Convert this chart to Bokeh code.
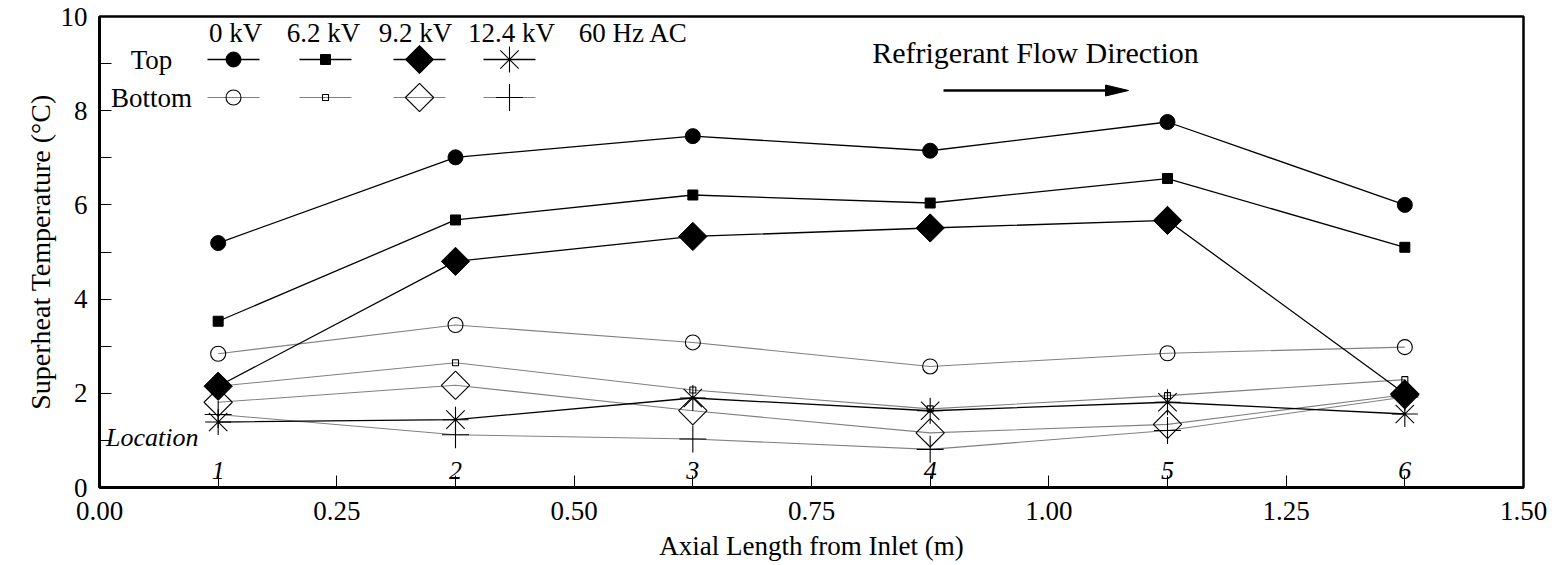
import math
from bokeh.plotting import figure
from bokeh.models import Range1d, FixedTicker, NumeralTickFormatter
from bokeh.embed import file_html
from bokeh.resources import INLINE
from bokeh.core.properties import value

# ---------------- data ----------------
axial_m = [0.125, 0.375, 0.625, 0.875, 1.125, 1.375]
location_labels = ["1", "2", "3", "4", "5", "6"]

top_0kv = [5.19, 7.01, 7.46, 7.15, 7.76, 6.00]
top_6_2kv = [3.53, 5.68, 6.21, 6.04, 6.56, 5.10]
top_9_2kv = [2.15, 4.80, 5.33, 5.51, 5.67, 1.99]
top_12_4kv = [1.39, 1.44, 1.90, 1.63, 1.81, 1.56]

bot_0kv = [2.84, 3.45, 3.08, 2.57, 2.85, 2.98]
bot_6_2kv = [2.15, 2.65, 2.07, 1.67, 1.95, 2.29]
bot_9_2kv = [1.81, 2.17, 1.63, 1.16, 1.34, 1.97]
bot_12_4kv = [1.55, 1.12, 1.03, 0.81, 1.21, 1.92]

legend_headers = ["0 kV", "6.2 kV", "9.2 kV", "12.4 kV", "60 Hz AC"]
row_labels = ["Top", "Bottom"]
x_ticks = [0.0, 0.25, 0.5, 0.75, 1.0, 1.25, 1.5]
x_minor = [0.125, 0.375, 0.625, 0.875, 1.125, 1.375]
y_ticks = [0, 2, 4, 6, 8, 10]
y_minor = [1, 3, 5, 7, 9]

# ---------------- layout ----------------
W, H = 1556, 565
L, R, T, B = 99, 1523, 16, 487
X0, X1, Y0, Y1 = 0.0, 1.5, 0.0, 10.0
FONT_NAME = "'Liberation Serif', 'Times New Roman', serif"
FONT = value(FONT_NAME)


def px2x(px):
    return X0 + (px - L) / (R - L) * (X1 - X0)


def py2y(py):
    return Y0 + (B - py) / (B - T) * (Y1 - Y0)


p = figure(width=W, height=H, output_backend="svg", toolbar_location=None,
           x_range=Range1d(X0, X1), y_range=Range1d(Y0, Y1),
           min_border_left=L, min_border_right=W - R,
           min_border_top=T, min_border_bottom=H - B)
p.background_fill_color = "white"
p.border_fill_color = "white"
p.grid.visible = False
p.outline_line_color = "black"
p.outline_line_width = 2.5

for ax in (p.xaxis[0], p.yaxis[0]):
    ax.axis_line_width = 3
    ax.axis_line_color = "black"
    ax.major_tick_in = 12
    ax.major_tick_out = 0
    ax.minor_tick_in = 12
    ax.minor_tick_out = 0
    ax.major_tick_line_color = "black"
    ax.minor_tick_line_color = "black"
    ax.major_label_text_font = FONT_NAME
    ax.major_label_text_font_size = "27px"
    ax.major_label_text_color = "black"
    ax.axis_label_text_font = FONT_NAME
    ax.axis_label_text_font_style = "normal"
    ax.axis_label_text_color = "black"

p.xaxis.ticker = FixedTicker(ticks=x_ticks, minor_ticks=x_minor)
p.xaxis.formatter = NumeralTickFormatter(format="0.00")
p.xaxis.major_label_standoff = 14
p.xaxis.axis_label = "Axial Length from Inlet (m)"
p.xaxis.axis_label_text_font_size = "27px"
p.xaxis.axis_label_standoff = 8

p.yaxis.ticker = FixedTicker(ticks=y_ticks, minor_ticks=y_minor)
p.yaxis.major_label_standoff = 12
p.yaxis.axis_label = "Superheat Temperature (°C)"
p.yaxis.axis_label_text_font_size = "28px"
p.yaxis.axis_label_standoff = 2

# ---------------- series ----------------
GRAY = "#808080"
bottom = [bot_0kv, bot_6_2kv, bot_9_2kv, bot_12_4kv]
top = [top_0kv, top_6_2kv, top_9_2kv, top_12_4kv]

for ys in bottom:
    p.line(axial_m, ys, line_color=GRAY, line_width=1.1)
for ys in top:
    p.line(axial_m, ys, line_color="black", line_width=1.3)

# marker styles: (marker, size, angle, filled)
top_styles = [("circle", 15, 0, True), ("square", 10, 0, True),
              ("square", 20, math.pi / 4, True), ("asterisk", 26, 0, False)]
bot_styles = [("circle", 15, 0, False), ("square", 6, 0, False),
              ("square", 20, math.pi / 4, False), ("cross", 27, 0, False)]


def draw_markers(xs, ys, style):
    marker, size, angle, filled = style
    if filled:
        p.scatter(xs, ys, marker=marker, size=size, angle=angle,
                  fill_color="black", line_color="black", line_width=1)
    else:
        p.scatter(xs, ys, marker=marker, size=size, angle=angle,
                  fill_color=None, line_color="black", line_width=1.1)


for ys, st in zip(bottom, bot_styles):
    draw_markers(axial_m, ys, st)
for ys, st in zip(top, top_styles):
    draw_markers(axial_m, ys, st)

# ---------------- location labels ----------------
p.text(axial_m, [py2y(470)] * len(axial_m), text=location_labels,
       text_font=FONT, text_font_size="26px", text_font_style="italic",
       text_align="center", text_baseline="middle", text_color="black")
p.text([px2x(198)], [py2y(437)], text=["Location"],
       text_font=FONT, text_font_size="26px", text_font_style="italic",
       text_align="right", text_baseline="middle", text_color="black")

# ---------------- custom legend ----------------
header_px = [235, 323, 415, 511, 633]
p.text([px2x(v) for v in header_px], [py2y(32)] * len(header_px), text=legend_headers,
       text_font=FONT, text_font_size="27px", text_align="center",
       text_baseline="middle", text_color="black")
row_py = [59, 97]
p.text([px2x(151)] * 2, [py2y(v) for v in row_py], text=row_labels,
       text_font=FONT, text_font_size="27px", text_align="center",
       text_baseline="middle", text_color="black")
sample_px = [233, 325, 419, 509]
half = 26
for ri, (py, styles, col) in enumerate([(row_py[0], top_styles, "black"),
                                        (row_py[1], bot_styles, GRAY)]):
    yy = py2y(py)
    p.segment(x0=[px2x(c - half) for c in sample_px], y0=[yy] * 4,
              x1=[px2x(c + half) for c in sample_px], y1=[yy] * 4,
              line_color=col, line_width=1.3 if ri == 0 else 1.1)
    for c, st in zip(sample_px, styles):
        draw_markers([px2x(c)], [yy], st)

# ---------------- flow direction ----------------
p.text([px2x(1035)], [py2y(52)], text=["Refrigerant Flow Direction"],
       text_font=FONT, text_font_size="30px", text_align="center",
       text_baseline="middle", text_color="black")
p.segment(x0=[px2x(943)], y0=[py2y(90)], x1=[px2x(1110)], y1=[py2y(90)],
          line_color="black", line_width=2.5)
p.patch([px2x(1105), px2x(1128), px2x(1105)], [py2y(84.5), py2y(90), py2y(95.5)],
        fill_color="black", line_color="black")

open("out.html", "w").write(file_html(p, INLINE))
